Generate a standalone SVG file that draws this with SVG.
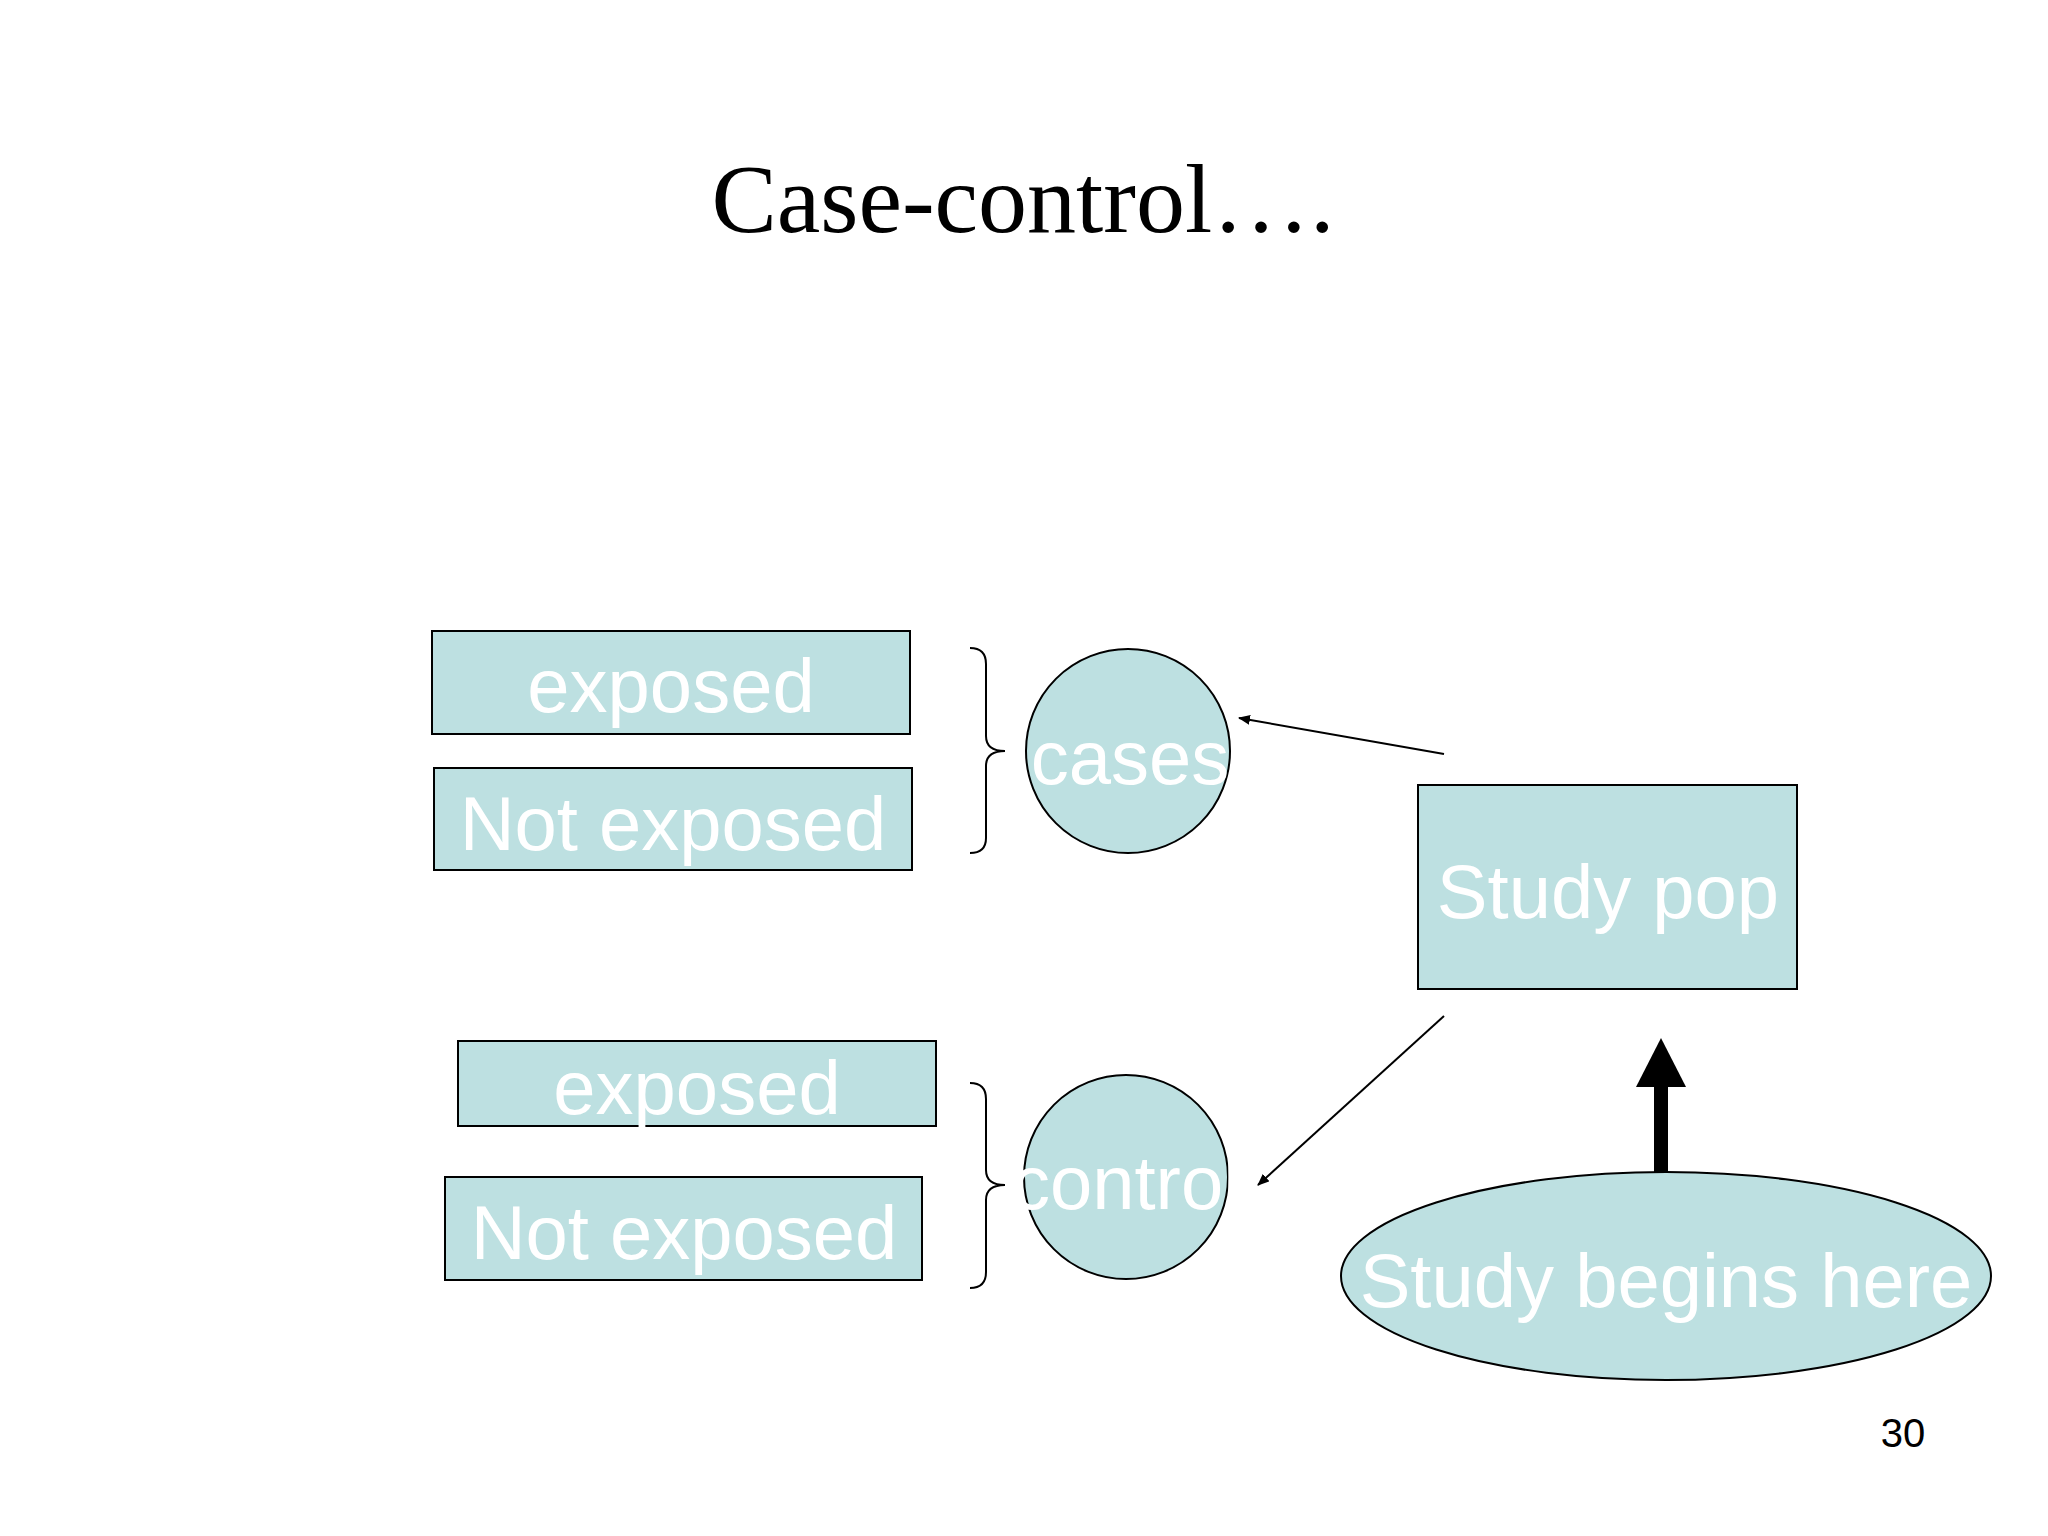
<svg xmlns="http://www.w3.org/2000/svg" width="2048" height="1536" viewBox="0 0 2048 1536">
<style>
.n{fill:#bde0e1;stroke:#000;stroke-width:2}
.t{font-family:"Liberation Sans",Arial,sans-serif;font-size:76px;fill:#fff;text-anchor:middle}
.c{fill:none;stroke:#000;stroke-width:2}
</style>
<defs><marker id="a" markerWidth="12" markerHeight="10" refX="11" refY="5" orient="auto" markerUnits="userSpaceOnUse"><path d="M0,0L12,5L0,10z" fill="#000"/></marker></defs>
<rect width="2048" height="1536" fill="#fff"/>
<text x="1023" y="232" font-family="Liberation Serif,serif" font-size="98" text-anchor="middle">Case-control….</text>
<g id="exposed1"><rect class="n" x="432" y="631" width="478" height="103"/><text class="t" x="671" y="712">exposed</text></g>
<g id="notexposed1"><rect class="n" x="434" y="768" width="478" height="102"/><text class="t" x="673" y="850">Not exposed</text></g>
<g id="exposed2"><rect class="n" x="458" y="1041" width="478" height="85"/><text class="t" x="697" y="1114">exposed</text></g>
<g id="notexposed2"><rect class="n" x="445" y="1177" width="477" height="103"/><text class="t" x="684" y="1259">Not exposed</text></g>
<g id="cases"><circle class="n" cx="1128" cy="751" r="102"/><text class="t" x="1130" y="784">cases</text></g>
<g id="control"><circle class="n" cx="1126" cy="1177" r="102"/><text class="t" x="1126" y="1209">control</text></g>
<g id="studypop"><rect class="n" x="1418" y="785" width="379" height="204"/><text class="t" x="1608" y="918">Study pop</text></g>
<g id="begins"><ellipse class="n" cx="1666" cy="1276" rx="325" ry="104"/><text class="t" x="1666" y="1307">Study begins here</text></g>
<g id="braces" class="c">
<path class="c" d="M970,648 Q986,648 986,664 L986,736 Q986,751 1005,751 Q986,751 986,766 L986,838 Q986,853 970,853"/>
<path class="c" d="M970,1083 Q986,1083 986,1099 L986,1170 Q986,1185 1005,1185 Q986,1185 986,1200 L986,1272 Q986,1288 970,1288"/>
</g>
<g id="connectors">
<line x1="1444" y1="754" x2="1239" y2="718" stroke="#000" stroke-width="2" marker-end="url(#a)"/>
<line x1="1444" y1="1016" x2="1258" y2="1185" stroke="#000" stroke-width="2" marker-end="url(#a)"/>
<rect x="1654" y="1085" width="14" height="88" fill="#000"/>
<path d="M1636,1087L1661,1038L1686,1087z" fill="#000"/>
</g>
<text x="1903" y="1447" font-family="Liberation Sans,Arial,sans-serif" font-size="40" text-anchor="middle">30</text>
</svg>
